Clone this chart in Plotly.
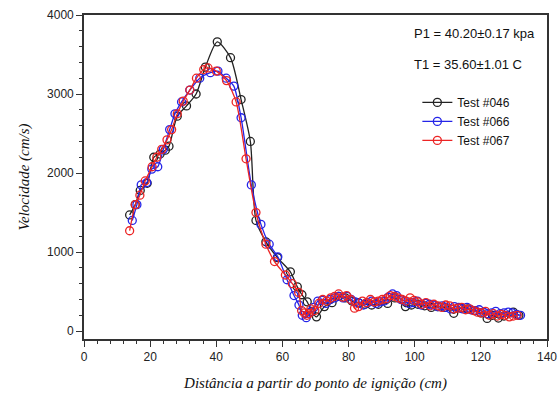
import plotly.graph_objects as go

# Test #046 (black)
x046 = [13.8, 15.5, 17.0, 19.1, 21.1, 23.0, 24.6, 25.7, 28.2, 31.0,
        33.9, 36.7, 40.3, 44.3, 47.5, 50.3, 52.0, 55.0, 58.5, 62.4,
        64.5, 65.9, 67.5, 68.8, 70.3, 72.7, 75.0, 77.0, 79.0, 81.0,
        83.0, 85.0, 87.0, 89.0, 91.8, 94.0, 97.2, 99.0, 101.0, 103.0,
        105.0, 107.0, 109.0, 111.8, 114.0, 116.0, 118.0, 120.0, 121.9, 123.5,
        125.3, 127.0, 129.8, 131.5]
y046 = [1470, 1600, 1780, 1870, 2200, 2240, 2290, 2340, 2720, 2850,
        3000, 3340, 3660, 3460, 2930, 2400, 1400, 1130, 930, 750,
        560, 460, 370, 250, 180, 310, 360, 440, 420, 380,
        360, 340, 330, 340, 350, 420, 310, 330, 340, 320,
        300, 310, 300, 225, 290, 280, 260, 230, 160, 200,
        165, 190, 240, 200]

# Test #066 (blue)
x066 = [14.6, 16.0, 17.3, 19.0, 20.5, 22.3, 24.0, 25.9, 27.5, 29.5,
        32.0, 35.0, 38.2, 40.5, 43.0, 45.3, 47.5, 50.6, 53.5, 56.0,
        58.6, 61.4, 63.5, 65.0, 66.0, 67.2, 68.4, 69.5, 70.7, 72.0,
        73.2, 74.5, 75.8, 77.0, 78.3, 79.5, 80.8, 82.0, 83.3, 84.5,
        85.8, 87.0, 88.3, 89.5, 90.8, 92.0, 93.3, 94.5, 95.8, 97.0,
        98.3, 99.5, 100.8, 102.0, 103.3, 104.5, 105.8, 107.0, 108.3, 109.5,
        110.8, 112.0, 113.3, 114.5, 115.8, 117.0, 118.3, 119.5, 120.8, 122.0,
        123.3, 124.5, 125.8, 127.0, 128.3, 129.5, 130.8, 132.0]
y066 = [1400, 1600, 1850, 1880, 2050, 2080, 2300, 2550, 2750, 2900,
        3050, 3200, 3270, 3290, 3200, 3100, 2700, 1850, 1350, 1100,
        940, 650, 450, 330, 200, 170, 240, 300, 380, 390,
        350, 400, 420, 440, 420, 440, 400, 370, 350, 330,
        360, 380, 350, 370, 380, 430, 470, 450, 400, 380,
        350, 360, 380, 330, 350, 340, 330, 310, 320, 300,
        280, 310, 300, 280, 300, 270, 260, 270, 240, 220,
        230, 250, 220, 230, 240, 230, 210, 200]

# Test #067 (red)
x067 = [13.8, 15.5, 16.9, 18.5, 20.6, 22.0, 23.5, 25.1, 26.5, 28.2,
        30.0, 32.0, 34.0, 36.2, 37.5, 40.0, 43.1, 46.0, 49.0, 52.0,
        55.0, 57.6, 60.9, 63.0, 64.9, 65.8, 66.6, 67.4, 68.0, 68.6,
        69.8, 71.0, 72.2, 73.4, 74.6, 75.8, 77.0, 78.2, 79.4, 80.6,
        81.8, 83.0, 84.2, 85.4, 86.6, 87.8, 89.0, 90.2, 91.4, 92.6,
        93.8, 95.0, 96.2, 97.4, 98.6, 99.8, 101.0, 102.2, 103.4, 104.6,
        105.8, 107.0, 108.2, 109.4, 110.6, 111.8, 113.0, 114.2, 115.4, 116.6,
        117.8, 119.0, 120.2, 121.4, 122.6, 123.8, 125.0, 126.2, 127.4, 128.6,
        129.8, 131.0]
y067 = [1270, 1600, 1720, 1900, 2080, 2200, 2300, 2420, 2550, 2750,
        2910, 3050, 3200, 3310, 3330, 3290, 3170, 2900, 2180, 1500,
        1100, 880, 710, 600, 490, 260, 230, 200, 220, 280,
        260, 350, 400, 380, 420, 440, 470, 430, 450, 400,
        290, 310, 380, 360, 400, 370, 380, 400, 410, 450,
        440, 420, 400, 380, 420, 390, 370, 340, 360, 320,
        340, 320, 300, 330, 320, 280, 290, 300, 270, 280,
        260, 240, 230, 250, 200, 220, 190, 210, 200, 180,
        190, 200]

series = [
    ("Test #046", x046, y046, "#222222"),
    ("Test #066", x066, y066, "#2424e8"),
    ("Test #067", x067, y067, "#ec2424"),
]

fig = go.Figure()
for name, xs, ys, col in series:
    fig.add_trace(go.Scatter(
        x=xs, y=ys, name=name, mode="lines+markers",
        line=dict(color=col, width=1.3, shape="spline", smoothing=0.7),
        marker=dict(symbol="circle-open", size=8, color=col, line=dict(width=1.3, color=col)),
    ))

axis_common = dict(
    showline=True, linecolor="#333333", linewidth=1.6, mirror=True,
    ticks="outside", ticklen=6, tickwidth=1.3, tickcolor="#333333",
    showgrid=False, zeroline=False, automargin=False,
    tickfont=dict(family="Liberation Sans", size=12, color="#222222"),
)

title_font = dict(family="Times New Roman, Liberation Serif, serif", size=15, color="#111111")

fig.update_xaxes(
    range=[0, 140], tickmode="array", tickvals=[0, 20, 40, 60, 80, 100, 120, 140],
    minor=dict(ticks="outside", ticklen=3, tickwidth=1, tickcolor="#333333", dtick=4, tick0=0),
    title=dict(text="<i>Distância a partir do ponto de ignição (cm)</i>", font=title_font, standoff=14),
    **axis_common,
)
fig.update_yaxes(
    range=[-100, 4000], tickmode="array", tickvals=[0, 1000, 2000, 3000, 4000],
    minor=dict(ticks="outside", ticklen=3, tickwidth=1, tickcolor="#333333", dtick=200, tick0=0),
    title=dict(text="<i>Velocidade (cm/s)</i>", font=title_font, standoff=14),
    **axis_common,
)

fig.add_annotation(x=0.708, y=0.944, xref="paper", yref="paper", xanchor="left", yanchor="middle",
                   text="P1 = 40.20±0.17 kpa", showarrow=False,
                   font=dict(family="Liberation Sans", size=13, color="#111111"))
fig.add_annotation(x=0.708, y=0.846, xref="paper", yref="paper", xanchor="left", yanchor="middle",
                   text="T1 = 35.60±1.01 C", showarrow=False,
                   font=dict(family="Liberation Sans", size=13, color="#111111"))

fig.update_layout(
    width=559, height=397,
    margin=dict(l=84, r=12, t=15, b=58),
    paper_bgcolor="white", plot_bgcolor="white",
    showlegend=True,
    legend=dict(x=0.72, y=0.775, xanchor="left", yanchor="top",
                bgcolor="rgba(0,0,0,0)", borderwidth=0,
                font=dict(family="Liberation Sans", size=12, color="#111111"),
                itemwidth=30, tracegroupgap=0),
)

fig.write_html("out.html")
